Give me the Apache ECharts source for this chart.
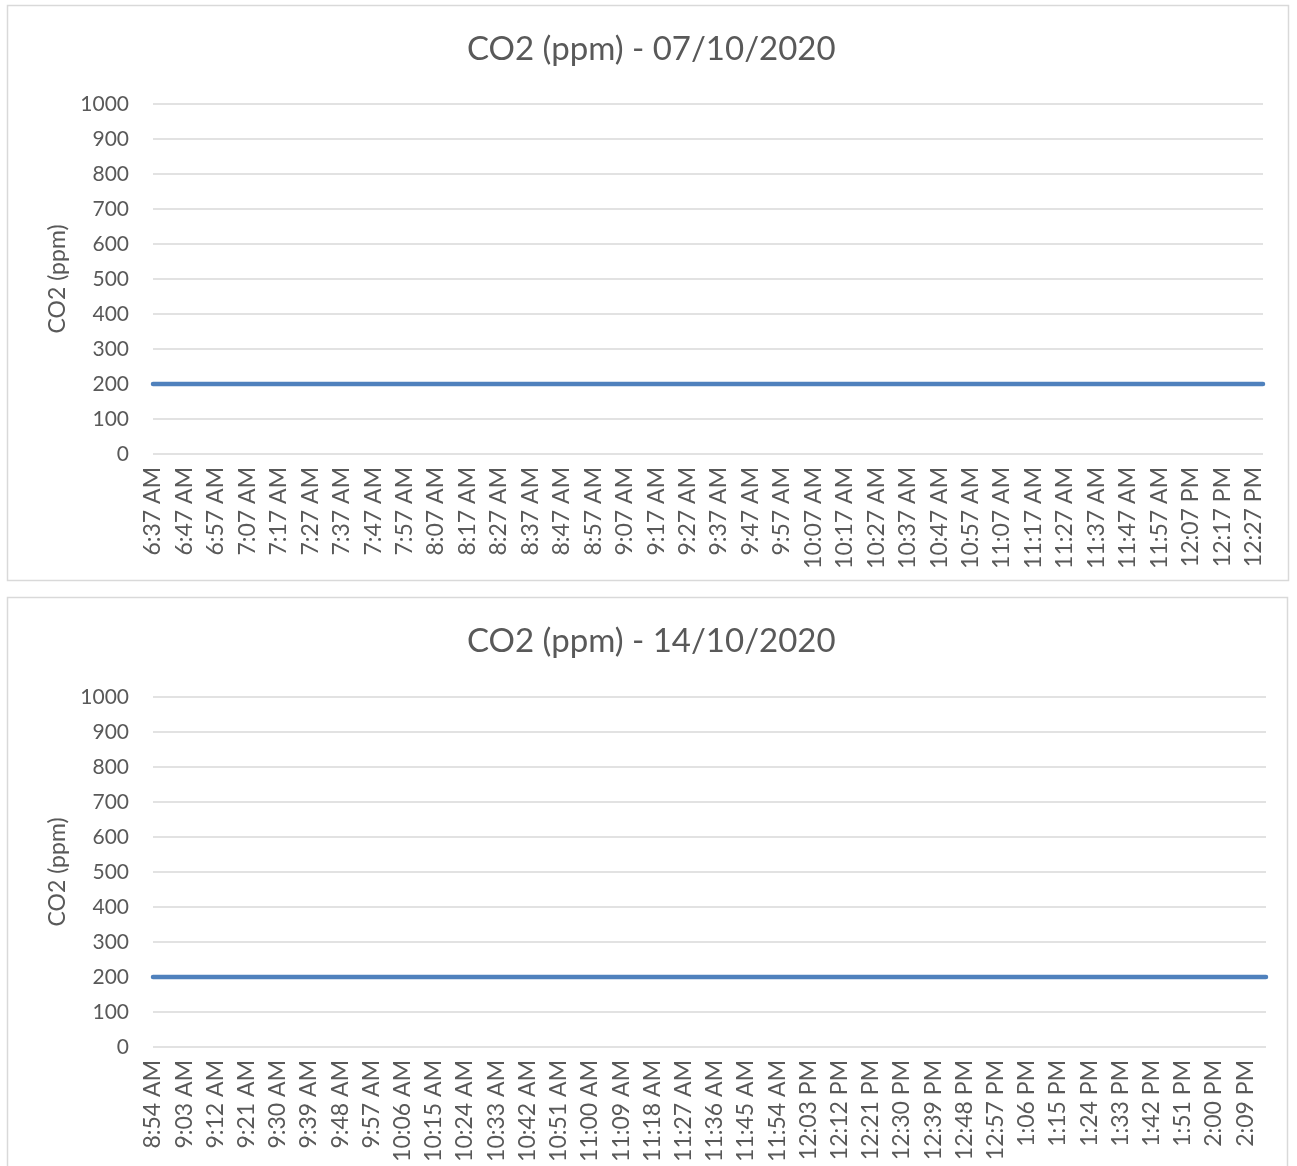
<!DOCTYPE html>
<html><head><meta charset="utf-8">
<script src="https://cdn.jsdelivr.net/npm/echarts@6/dist/echarts.min.js"></script>
<style>html,body{margin:0;padding:0;background:#fff}#c{width:1297px;height:1166px}</style>
</head><body><div id="c"></div>
<script>
const TITLE_1 = 'CO2 (ppm) - 07/10/2020';
const TITLE_2 = 'CO2 (ppm) - 14/10/2020';
const Y_NAME = 'CO2 (ppm)';
const Y_MIN = 0, Y_MAX = 1000, Y_STEP = 100;

const TICKS_1 = ['6:37 AM','6:47 AM','6:57 AM','7:07 AM','7:17 AM','7:27 AM','7:37 AM','7:47 AM','7:57 AM',
  '8:07 AM','8:17 AM','8:27 AM','8:37 AM','8:47 AM','8:57 AM','9:07 AM','9:17 AM','9:27 AM','9:37 AM',
  '9:47 AM','9:57 AM','10:07 AM','10:17 AM','10:27 AM','10:37 AM','10:47 AM','10:57 AM','11:07 AM',
  '11:17 AM','11:27 AM','11:37 AM','11:47 AM','11:57 AM','12:07 PM','12:17 PM','12:27 PM'];
const TIMES_1 = TICKS_1.concat(['12:30 PM']);
const CO2_1 = [200,200,200,200,200,200,200,200,200,200,200,200,200,200,200,200,200,200,200,
  200,200,200,200,200,200,200,200,200,200,200,200,200,200,200,200,200,200];

const TICKS_2 = ['8:54 AM','9:03 AM','9:12 AM','9:21 AM','9:30 AM','9:39 AM','9:48 AM','9:57 AM',
  '10:06 AM','10:15 AM','10:24 AM','10:33 AM','10:42 AM','10:51 AM','11:00 AM','11:09 AM','11:18 AM',
  '11:27 AM','11:36 AM','11:45 AM','11:54 AM','12:03 PM','12:12 PM','12:21 PM','12:30 PM','12:39 PM',
  '12:48 PM','12:57 PM','1:06 PM','1:15 PM','1:24 PM','1:33 PM','1:42 PM','1:51 PM','2:00 PM','2:09 PM'];
const TIMES_2 = TICKS_2.concat(['2:15 PM']);
const CO2_2 = [200,200,200,200,200,200,200,200,200,200,200,200,200,200,200,200,200,200,200,
  200,200,200,200,200,200,200,200,200,200,200,200,200,200,200,200,200,200];

function toMin(s){
  const parts = s.split(' ');
  let hm = parts[0].split(':').map(Number);
  let h = hm[0], m = hm[1];
  if (parts[1] === 'PM' && h !== 12) h += 12;
  if (parts[1] === 'AM' && h === 12) h = 0;
  return h * 60 + m;
}

const TXT = '#595959';
const FONT = 'Lato';

function build(ticks, times, vals, gi){
  const start = toMin(ticks[0]);
  const step = toMin(ticks[1]) - start;
  const data = times.map((t, i) => [toMin(t) - start, vals[i]]);
  const maxX = toMin(times[times.length - 1]) - start;
  const x = {
    type: 'value', gridIndex: gi, min: 0, max: maxX, interval: step,
    axisLine: {show: false}, axisTick: {show: false}, splitLine: {show: false},
    axisLabel: {
      rotate: 90, margin: 13, color: TXT, fontFamily: FONT, fontSize: 23,
      showMinLabel: true, showMaxLabel: true,
      formatter: v => (v % step === 0 && ticks[v / step] !== undefined) ? ticks[v / step] : ''
    }
  };
  const y = {
    type: 'value', gridIndex: gi, min: Y_MIN, max: Y_MAX, interval: Y_STEP,
    name: Y_NAME, nameLocation: 'middle', nameGap: 77, nameRotate: 90,
    nameTextStyle: {color: TXT, fontFamily: FONT, fontSize: 23},
    axisLine: {show: false}, axisTick: {show: false},
    axisLabel: {color: TXT, fontFamily: FONT, fontSize: 21, margin: 24, formatter: v => String(v)},
    splitLine: {lineStyle: {color: '#d9d9d9', width: 1.5}}
  };
  const s = {
    type: 'line', xAxisIndex: gi, yAxisIndex: gi, data: data, showSymbol: false, symbol: 'none',
    lineStyle: {color: '#4f81bd', width: 4.5, cap: 'round'}, animation: false
  };
  return {x, y, s};
}

const a = build(TICKS_1, TIMES_1, CO2_1, 0);
const b = build(TICKS_2, TIMES_2, CO2_2, 1);

const chart = echarts.init(document.getElementById('c'), null, {renderer: 'canvas'});
chart.setOption({
  animation: false,
  backgroundColor: '#fff',
  title: [
    {text: TITLE_1, left: 462, top: 28, textStyle: {color: TXT, fontFamily: FONT, fontSize: 33, fontWeight: 'normal'}},
    {text: TITLE_2, left: 462, top: 620, textStyle: {color: TXT, fontFamily: FONT, fontSize: 33, fontWeight: 'normal'}}
  ],
  graphic: [
    {type: 'rect', shape: {x: 7.5, y: 5.5, width: 1281, height: 575}, style: {fill: 'none', stroke: '#d9d9d9', lineWidth: 1.5}},
    {type: 'rect', shape: {x: 7.5, y: 597.5, width: 1280, height: 600}, style: {fill: 'none', stroke: '#d9d9d9', lineWidth: 1.5}}
  ],
  grid: [
    {left: 153, top: 104, width: 1110, height: 350},
    {left: 153, top: 697, width: 1113, height: 350}
  ],
  xAxis: [a.x, b.x],
  yAxis: [a.y, b.y],
  series: [a.s, b.s]
});
</script>
</body></html>
